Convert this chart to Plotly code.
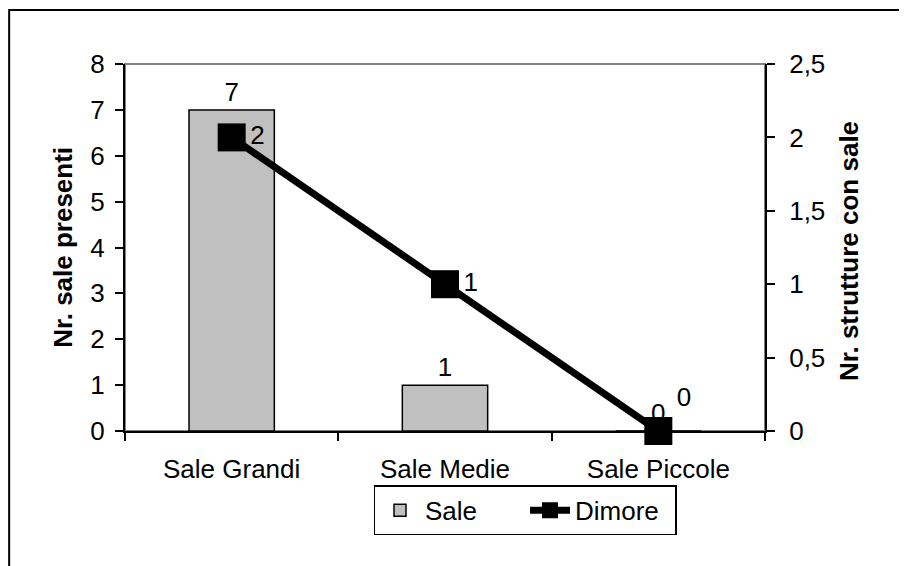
import plotly.graph_objects as go

categories = ["Sale Grandi", "Sale Medie", "Sale Piccole"]
sale = [7, 1, 0]
dimore = [2, 1, 0]
left_ticks = [0, 1, 2, 3, 4, 5, 6, 7, 8]
right_tickvals = [0, 0.5, 1, 1.5, 2, 2.5]
right_ticktext = ["0", "0,5", "1", "1,5", "2", "2,5"]
boundaries = [-0.5, 0.5, 1.5, 2.5]

FONT = "Liberation Sans, Arial, sans-serif"
FS = 26

fig = go.Figure()
fig.add_trace(go.Bar(
    x=categories, y=sale, name="Sale",
    width=0.4,
    marker=dict(color="#C0C0C0", line=dict(color="black", width=1.5)),
    text=[str(v) for v in sale], textposition="outside",
    textfont=dict(family=FONT, size=FS, color="black"),
    cliponaxis=False,
))
fig.add_trace(go.Scatter(
    x=categories, y=dimore, name="Dimore", yaxis="y2",
    mode="lines+markers+text",
    line=dict(color="black", width=7),
    marker=dict(symbol="square", size=28, color="black"),
    text=[str(v) for v in dimore],
    textposition=["middle right", "middle right", "top right"],
    textfont=dict(family=FONT, size=FS, color="black"),
    cliponaxis=False,
))

axis_common = dict(showgrid=False, zeroline=False)

# page body has an 8px margin, so the figure is offset by (8, 8)
fig.update_layout(
    width=899, height=558,
    margin=dict(l=117, r=142, t=56, b=135),
    paper_bgcolor="white", plot_bgcolor="white",
    font=dict(family=FONT, size=FS, color="black"),
    showlegend=True,
    xaxis=dict(
        type="category", range=[-0.5, 2.5], tickson="boundaries",
        ticks="outside", ticklen=8, tickwidth=2, tickcolor="black",
        showline=True, linecolor="black", linewidth=2,
        ticklabelstandoff=14,
        tickfont=dict(family=FONT, size=FS, color="black"),
        **axis_common,
    ),
    xaxis2=dict(
        overlaying="x", anchor="y", side="bottom", range=[-0.5, 2.5],
        tickmode="array", tickvals=boundaries, ticks="inside", ticklen=8,
        tickwidth=2, tickcolor="black", showticklabels=False, showline=False,
        **axis_common,
    ),
    yaxis=dict(
        range=[0, 8], tickmode="array", tickvals=left_ticks,
        ticks="outside", ticklen=8, tickwidth=2, tickcolor="black",
        showline=True, linecolor="black", linewidth=2,
        ticklabelstandoff=5,
        tickfont=dict(family=FONT, size=FS, color="black"),
        **axis_common,
    ),
    yaxis3=dict(
        overlaying="y", anchor="x", side="left", range=[0, 8],
        tickmode="array", tickvals=left_ticks, ticks="inside", ticklen=8,
        tickwidth=2, tickcolor="black", showticklabels=False, showline=False,
        **axis_common,
    ),
    yaxis2=dict(
        overlaying="y", anchor="x", side="right", range=[0, 2.5],
        tickmode="array", tickvals=right_tickvals, ticktext=right_ticktext,
        ticks="outside", ticklen=8, tickwidth=2, tickcolor="black",
        showline=True, linecolor="black", linewidth=2,
        ticklabelstandoff=9,
        tickfont=dict(family=FONT, size=FS, color="black"),
        **axis_common,
    ),
    yaxis4=dict(
        overlaying="y", anchor="x", side="right", range=[0, 2.5],
        tickmode="array", tickvals=right_tickvals, ticks="inside", ticklen=8,
        tickwidth=2, tickcolor="black", showticklabels=False, showline=False,
        **axis_common,
    ),
    legend=dict(
        orientation="h", x=0.625, xanchor="center", y=-0.148, yanchor="top",
        bordercolor="black", borderwidth=1.5, bgcolor="white",
        font=dict(family=FONT, size=FS, color="black"),
        traceorder="normal", entrywidth=95, entrywidthmode="pixels",
        itemwidth=40, tracegroupgap=0,
    ),
    annotations=[
        dict(text="<b>Nr. sale presenti</b>", xref="paper", yref="paper",
             x=-0.098, y=0.5, xanchor="center", yanchor="middle",
             textangle=-90, showarrow=False,
             font=dict(family=FONT, size=FS, color="black")),
        dict(text="<b>Nr. strutture con sale</b>", xref="paper", yref="paper",
             x=1.131, y=0.49, xanchor="center", yanchor="middle",
             textangle=-90, showarrow=False,
             font=dict(family=FONT, size=FS, color="black")),
    ],
    shapes=[
        dict(type="rect", xref="paper", yref="paper", x0=0, x1=1, y0=0, y1=1,
             line=dict(color="#808080", width=2), layer="below"),
        dict(type="rect", xref="paper", yref="paper", x0=-0.181, x1=2.0,
             y0=-2.0, y1=1.147, line=dict(color="black", width=2),
             layer="below"),
    ],
)

fig.write_html("out.html")
